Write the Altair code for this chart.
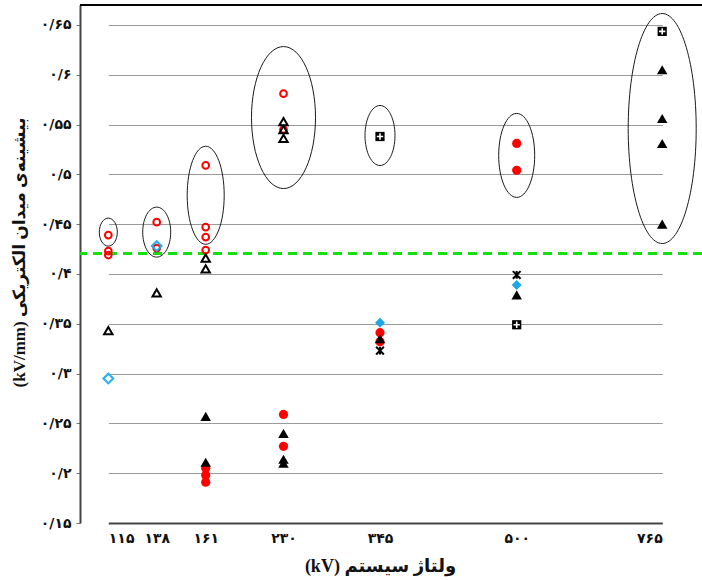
import altair as alt
import pandas as pd

# System voltage categories (kV) and their Persian tick labels
kv_ticks = [115, 138, 161, 230, 345, 500, 765]
kv_labels = ["۱۱۵", "۱۳۸", "۱۶۱", "۲۳۰", "۳۴۵", "۵۰۰", "۷۶۵"]

# Field axis ticks (kV/mm) and their Persian labels
field_ticks = [0.15, 0.2, 0.25, 0.3, 0.35, 0.4, 0.45, 0.5, 0.55, 0.6, 0.65]
field_labels = ["۰/۱۵", "۰/۲", "۰/۲۵", "۰/۳", "۰/۳۵", "۰/۴", "۰/۴۵", "۰/۵", "۰/۵۵", "۰/۶", "۰/۶۵"]

# Maximum electric field values per marker series
red_open_kv = [115, 115, 115, 138, 138, 161, 161, 161, 161, 230, 230]
red_open_val = [0.439, 0.423, 0.419, 0.452, 0.426, 0.509, 0.447, 0.437, 0.424, 0.581, 0.545]

tri_open_kv = [115, 138, 161, 161, 230, 230, 230]
tri_open_val = [0.343, 0.381, 0.416, 0.405, 0.553, 0.545, 0.536]

dia_open_kv = [115, 138]
dia_open_val = [0.295, 0.428]

red_fill_kv = [161, 161, 161, 230, 230, 345, 345, 500, 500]
red_fill_val = [0.205, 0.198, 0.191, 0.259, 0.227, 0.341, 0.332, 0.531, 0.504]

tri_fill_kv = [161, 161, 230, 230, 230, 345, 500, 765, 765, 765, 765]
tri_fill_val = [0.257, 0.211, 0.240, 0.214, 0.210, 0.335, 0.379, 0.605, 0.556, 0.531, 0.450]

dia_fill_kv = [345, 500]
dia_fill_val = [0.351, 0.389]

star_kv = [345, 500]
star_val = [0.323, 0.399]

sqplus_kv = [345, 500, 765]
sqplus_val = [0.538, 0.349, 0.6435]

# Reference limit (dashed green line)
limit_value = 0.4205

# Group outlines: centre voltage, centre field value
group_kv = [115, 138, 161, 230, 345, 500, 765]
group_mid = [0.442, 0.442, 0.479, 0.557, 0.539, 0.519, 0.546]
group_half_w = [9, 14, 18.5, 32, 15, 18, 34]
group_half_h = [14, 25, 49, 71, 30, 42, 115]

y_domain = [0.15, 0.67]
W, H = 622, 518


def expr_for(values, labels):
    expr = "''"
    for v, lab in reversed(list(zip(values, labels))):
        expr = f"abs(datum.value - {v}) < 1e-6 ? '{lab}' : ({expr})"
    return expr


def ellipse_path(a, b):
    s = max(a, b)
    a, b = a / s, b / s
    k = 0.5523
    return (f"M{a},0 C{a},{k*b} {k*a},{b} 0,{b} C{-k*a},{b} {-a},{k*b} {-a},0 "
            f"C{-a},{-k*b} {-k*a},{-b} 0,{-b} C{k*a},{-b} {a},{-k*b} {a},0 Z")


label_font = "DejaVu Sans"
title_font = "Liberation Serif, DejaVu Sans"

x_enc = alt.X(
    "kv:Q",
    scale=alt.Scale(domain=kv_ticks, range=[28.3, 76.7, 125.7, 203.5, 300, 436.7, 582.2],
                    zero=False, nice=False),
    axis=alt.Axis(
        values=kv_ticks, labelExpr=expr_for(kv_ticks, kv_labels), grid=False, ticks=False,
        domainColor="#444444", domainWidth=2, labelPadding=8, labelFont=label_font,
        labelFontSize=14, labelFontWeight="bold", labelColor="#111111",
        titleFont=title_font, titleFontSize=18, titleFontWeight="bold", titleColor="#111111",
        titleX=300, titleY=43, titleBaseline="middle", titleAlign="center",
    ),
    title="(kV) ولتاژ سیستم",
)

y_enc = alt.Y(
    "field:Q",
    scale=alt.Scale(domain=y_domain, zero=False, nice=False),
    axis=alt.Axis(
        values=field_ticks, labelExpr=expr_for(field_ticks, field_labels), grid=True,
        gridColor="#9a9a9a", gridWidth=1, tickColor="#777777", tickSize=4,
        domainColor="#444444", domainWidth=2, labelPadding=5, labelFont=label_font,
        labelFontSize=14, labelFontWeight="bold", labelColor="#111111",
        titleFont=title_font, titleFontSize=17, titleFontWeight="bold", titleColor="#111111",
        titleAngle=270, titleX=-61, titleY=247, titleBaseline="middle", titleAlign="center",
    ),
    title="(kV/mm) بیشینه‌ی میدان الکتریکی",
)


def frame(kv, val):
    return pd.DataFrame({"kv": kv, "field": val})


def open_layer(kv, val, shape, color, size):
    return alt.Chart(frame(kv, val)).mark_point(
        shape=shape, filled=False, color=color, strokeWidth=2, size=size, opacity=1
    ).encode(x=x_enc, y=y_enc)


def filled_layer(kv, val, shape, color, size):
    return alt.Chart(frame(kv, val)).mark_point(
        shape=shape, filled=True, color=color, strokeWidth=0, size=size, opacity=1
    ).encode(x=x_enc, y=y_enc)


groups = pd.DataFrame({
    "kv": group_kv,
    "field": group_mid,
    "path": [ellipse_path(a, b) for a, b in zip(group_half_w, group_half_h)],
    "area": [(2 * max(a, b)) ** 2 for a, b in zip(group_half_w, group_half_h)],
})

outlines = alt.Chart(groups).mark_point(
    filled=False, color="#1a1a1a", strokeWidth=1, opacity=1
).encode(
    x=x_enc, y=y_enc,
    shape=alt.Shape("path:N", scale=None),
    size=alt.Size("area:Q", scale=None),
)

top_border = alt.Chart(pd.DataFrame({"field": [y_domain[1]]})).mark_rule(
    color="#000000", strokeWidth=2
).encode(y=y_enc)

limit_line = alt.Chart(pd.DataFrame({"field": [limit_value]})).mark_rule(
    color="#11e011", strokeWidth=3, strokeDash=[9, 6]
).encode(y=y_enc)

star_path = "M-1,-1L1,1M-1,1L1,-1M0,-1L0,1"
plus_path = "M-1,0L1,0M0,-1L0,1"

layers = [
    top_border,
    limit_line,
    outlines,
    open_layer(red_open_kv, red_open_val, "circle", "#ff0000", 45),
    open_layer(tri_open_kv, tri_open_val, "triangle-up", "#000000", 70),
    open_layer(dia_open_kv, dia_open_val, "diamond", "#1fb0ee", 95),
    filled_layer(dia_fill_kv, dia_fill_val, "diamond", "#1fa6e6", 100),
    filled_layer(red_fill_kv, red_fill_val, "circle", "#ff0000", 85),
    filled_layer(tri_fill_kv, tri_fill_val, "triangle-up", "#000000", 110),
    alt.Chart(frame(star_kv, star_val)).mark_point(
        shape=star_path, filled=False, color="#000000", strokeWidth=2, size=60, opacity=1
    ).encode(x=x_enc, y=y_enc),
    filled_layer(sqplus_kv, sqplus_val, "square", "#000000", 85),
    alt.Chart(frame(sqplus_kv, sqplus_val)).mark_point(
        shape=plus_path, filled=False, color="#ffffff", strokeWidth=1.6, size=40, opacity=1
    ).encode(x=x_enc, y=y_enc),
]

chart = alt.layer(*layers).properties(
    width=W, height=H,
    autosize=alt.AutoSizeParams(type="none"),
    padding={"left": 80, "top": 5, "right": 0, "bottom": 57},
    background="#ffffff",
).configure_view(stroke=None)

chart.save("out.html", embed_options={"renderer": "svg", "actions": False})
